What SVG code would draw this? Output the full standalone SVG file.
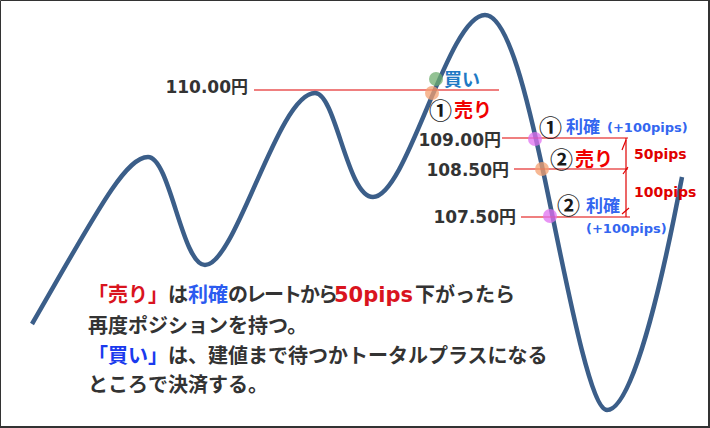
<svg xmlns="http://www.w3.org/2000/svg" width="710" height="428" viewBox="0 0 710 428">
<style>
.price{font-family:"DejaVu Sans","Noto Sans CJK JP",sans-serif;font-weight:bold;font-size:17px;fill:#333;text-anchor:end}
.cjk{font-family:"Noto Sans CJK JP",sans-serif}
.circ{font-family:"Noto Sans CJK JP",sans-serif;font-weight:bold;font-size:23px;fill:#1a1a1a}
.sell{font-family:"Noto Sans CJK JP",sans-serif;font-weight:bold;font-size:19px;fill:#f00000}
.tp{font-family:"Noto Sans CJK JP",sans-serif;font-weight:bold;font-size:17px;fill:#3366f0}
.pips{font-family:"DejaVu Sans",sans-serif;font-weight:bold;font-size:13px;fill:#3366f0}
.gap{font-family:"DejaVu Sans",sans-serif;font-weight:bold;font-size:14px;fill:#e00000}
.body{font-family:"Noto Sans CJK JP",sans-serif;font-weight:bold;font-size:20px;fill:#333}
.lvl{stroke:#e00000;stroke-width:1.2;fill:none}
.dot-g{fill:#6fae6f;opacity:0.75}
.dot-o{fill:#f4a070;opacity:0.75}
.dot-p{fill:#e070f0;opacity:0.75}
</style>
<rect x="0" y="0" width="710" height="428" fill="#fff"/>
<path d="M0.5,428 V0.5 H709" fill="none" stroke="#333" stroke-width="1"/>
<path d="M0,427 H709 V0" fill="none" stroke="#333" stroke-width="2"/>

<g id="price-curve">
<path d="M32,324 C95,215 125,157 148,157 C170,157 182,265 205,265 C236,265 278,93 315,93 C336,93 347,197 373,197 C407,197 448,15 485,15 C508,15 528,100 545,180 C566,280 590,410 607,410 C628,410 655,320 682,177" fill="none" stroke="#3b5e89" stroke-width="4.5"/>
</g>

<g id="connectors">
<line class="lvl" x1="254" y1="90" x2="499" y2="90"/>
<line class="lvl" x1="502" y1="138" x2="628" y2="138"/>
<line class="lvl" x1="514" y1="169" x2="628" y2="169"/>
<line class="lvl" x1="521" y1="217" x2="630" y2="217"/>
<line class="lvl" x1="626" y1="138" x2="626" y2="217" stroke-width="1"/>
<path class="lvl" d="M622,150 L626,140 M623,174 L628,167 M622,214 L629,208" stroke-width="0.9"/>
</g>

<g id="markers">
<circle class="dot-g" cx="436" cy="79" r="7"/>
<circle class="dot-o" cx="432" cy="93" r="7"/>
<circle class="dot-p" cx="535" cy="139" r="7"/>
<circle class="dot-o" cx="542" cy="169" r="7"/>
<circle class="dot-p" cx="550" cy="216" r="7"/>
</g>

<g id="level-110">
<text class="price" x="248" y="93">110.00円</text>
<text x="444" y="86" class="cjk" font-weight="bold" font-size="18" fill="#1f7ac4">買い</text>
<text class="circ" x="429" y="119">①</text>
<text class="sell" x="454" y="117">売り</text>
</g>

<g id="level-109">
<text class="price" x="501" y="146">109.00円</text>
<text class="circ" x="539" y="136" font-size="21">①</text>
<text class="tp" x="566" y="133">利確</text>
<text class="pips" x="607" y="132">(+100pips)</text>
</g>

<g id="level-108">
<text class="price" x="509" y="176">108.50円</text>
<text class="circ" x="550" y="168">②</text>
<text class="sell" x="575" y="166">売り</text>
<text class="gap" x="634" y="159">50pips</text>
<text class="gap" x="634" y="197">100pips</text>
</g>

<g id="level-107">
<text class="price" x="516" y="223">107.50円</text>
<text class="circ" x="557" y="214" font-size="21">②</text>
<text class="tp" x="586" y="212">利確</text>
<text class="pips" x="586" y="233">(+100pips)</text>
</g>

<g id="explanation">
<text class="body" y="302"><tspan x="88" fill="#d9141e">「売り」</tspan><tspan>は</tspan><tspan fill="#2b5bf0">利確</tspan><tspan letter-spacing="-2">のレートから</tspan><tspan x="334" font-family="DejaVu Sans,sans-serif" font-size="21" fill="#d9141e">50pips</tspan><tspan x="415">下がったら</tspan></text>
<text class="body" x="88" y="333">再度ポジションを持つ。</text>
<text class="body" y="363"><tspan x="88" fill="#1a3aee">「買い」</tspan><tspan>は、建値まで待つかトータルプラスになる</tspan></text>
<text class="body" x="88" y="392">ところで決済する。</text>
</g>
</svg>
